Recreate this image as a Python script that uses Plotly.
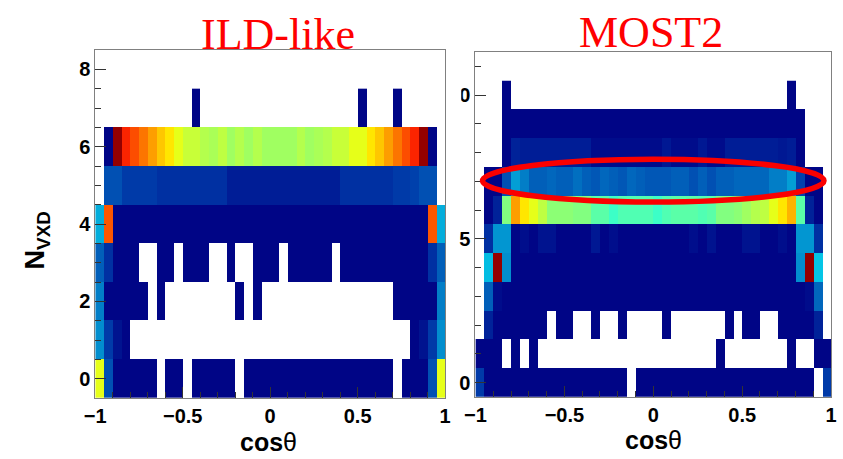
import numpy as np
import plotly.graph_objects as go

W, H = 843, 459
N = None

# 40 cos(theta) bins from -1 to 1
x_centers = [round(-0.975 + 0.05 * i, 3) for i in range(40)]

# ---------------- ILD-like : rows N_VXD = 0..7  (relative colour level 0-100) -------------
ild_row0 = [60, 15, 1, 1, 1, 1, 1, N, 1, 1, N, 1, 1, 1, 1, 1, N, 1, 1, 1,
            1, 1, 1, 1, 1, 1, 1, 1, 1, 1, 1, 1, 1, 1, N, 1, 1, 1, 15, 60]
ild_row1 = [23, 12, 4, 1, N, N, N, N, N, N, N, N, N, N, N, N, N, N, N, N,
            N, N, N, N, N, N, N, N, N, N, N, N, N, N, N, N, 1, 4, 12, 23]
ild_row2 = [21, 1, 1, 1, 1, 1, N, 1, N, N, N, N, N, N, N, N, 1, N, 1, N,
            N, N, N, N, N, N, N, N, N, N, N, N, N, N, 1, 1, 1, 1, 1, 21]
ild_row3 = [17, 10, 1, 1, 1, N, N, 1, 1, N, 1, 1, 1, N, N, 1, N, N, 1, 1,
            1, N, 1, 1, 1, 1, 1, N, 1, 1, 1, 1, 1, 1, 1, 1, 1, 1, 10, 17]
ild_row4 = [27, 79, 1, 1, 1, 1, 1, 1, 1, 1, 1, 1, 1, 1, 1, 1, 1, 1, 1, 1,
            1, 1, 1, 1, 1, 1, 1, 1, 1, 1, 1, 1, 1, 1, 1, 1, 1, 1, 79, 27]
ild_row5 = [N, 15, 15, 12, 12, 12, 12, 10, 10, 10, 10, 10, 10, 10, 10, 6, 6, 6, 6, 6,
            6, 6, 6, 6, 6, 6, 6, 6, 10, 10, 10, 10, 10, 10, 12, 12, 13, 15, 15, N]
ild_row6 = [N, 1, 98, 84, 80, 76, 72, 68, 65, 60, 57, 57, 55, 54, 56, 53, 55, 53, 55, 53,
            53, 53, 53, 55, 53, 54, 55, 57, 57, 60, 60, 65, 68, 72, 76, 80, 84, 98, 1, N]
ild_row7 = [N, N, N, N, N, N, N, N, N, N, N, 1, N, N, N, N, N, N, N, N,
            N, N, N, N, N, N, N, N, N, N, 1, N, N, N, 1, N, N, N, N, N]
ild_rows = [ild_row0, ild_row1, ild_row2, ild_row3, ild_row4, ild_row5, ild_row6, ild_row7]
ild_y = [0, 1, 2, 3, 4, 5, 6, 7]

# ---------------- MOST2 : rows N_VXD = 0..10 -------------
most_row0 = [12, 1, 1, 1, 1, 1, 1, 1, 1, 1, 1, 1, 1, 1, 1, 1, 1, N, 1, 1,
             1, 1, 1, 1, 1, 1, 1, 1, 1, 1, 1, 1, 1, 1, 1, 1, 1, 1, N, 12]
most_row1 = [1, 1, 1, N, 1, N, 1, N, N, N, N, N, N, N, N, N, N, N, N, N,
             N, N, N, N, N, N, N, 1, N, N, N, N, N, N, N, 1, N, N, 1, 1]
most_row2 = [N, 7, 1, 1, 1, 1, 1, 1, N, 1, 1, N, N, 1, N, N, 1, N, N, N,
             N, 1, N, N, N, N, N, N, 1, N, 1, 1, N, N, 1, 1, 1, 1, 7, N]
most_row3 = [N, 17, 2.5, 1, 1, 1, 1, 1, 1, 1, 1, 1, 1, 1, 1, 1, 1, 1, 1, 1,
             1, 1, 1, 1, 1, 1, 1, 1, 1, 1, 1, 1, 1, 1, 1, 1, 1, 2.5, 18, N]
most_row4 = [N, 29, 98, 23, 1, 1, 1, 1, 1, 1, 1, 1, 1, 1, 1, 1, 1, 1, 1, 1,
             1, 1, 1, 1, 1, 1, 1, 1, 1, 1, 1, 1, 1, 1, 1, 1, 23, 98, 30, N]
most_row5 = [N, 10, 24, 24, 1, 3, 1, 4, 4, 1, 1, 1, 1, 5, 1, 3, 1, 1, 1, 1,
             1, 1, 1, 1, 3, 1, 4, 1, 1, 1, 4, 4, 1, 1, 3, 1, 24, 24, 10, N]
most_row6 = [N, 1, 7, 50, 72, 65, 60, 56, 51, 51, 51, 50, 50, 46, 46, 43, 45, 45, 45, 45,
             43, 45, 46, 46, 46, 45, 46, 50, 50, 51, 53, 55, 56, 60, 65, 70, 46, 7, 1, N]
most_row7 = [N, 1, 1, 15, 25, 21, 17, 17, 18, 17, 17, 19, 17, 16, 18, 17, 16, 18, 17, 16,
             16, 16, 17, 17, 15, 17, 15, 17, 17, 18, 18, 18, 18, 21, 21, 25, 13, 1, 1, N]
most_row8 = [N, N, N, 1, 7, 6, 6, 6, 6, 6, 6, 6, 6, 2.5, 2.5, 2.5, 2.5, 2.5, 2.5, 2.5,
             2.5, 5, 2.5, 2.5, 2.5, 5, 2.5, 2.5, 6, 6, 6, 6, 6, 6, 5, 6, 1, N, N, N]
most_row9 = [N, N, N, 1, 1, 1, 1, 1, 1, 1, 1, 1, 1, 1, 1, 1, 1, 1, 1, 1,
             1, 1, 1, 1, 1, 1, 1, 1, 1, 1, 1, 1, 1, 1, 1, 1, 1, N, N, N]
most_row10 = [N, N, N, 1, N, N, N, N, N, N, N, N, N, N, N, N, N, N, N, N,
              N, N, N, N, N, N, N, N, N, N, N, N, N, N, N, 1, N, N, N, N]
most_rows = [most_row0, most_row1, most_row2, most_row3, most_row4, most_row5,
             most_row6, most_row7, most_row8, most_row9, most_row10]
most_y = [0, 1, 2, 3, 4, 5, 6, 7, 8, 9, 10]

# tick labels
x_tickvals = [-1, -0.5, 0, 0.5, 1]
x_ticktext = ["\u22121", "\u22120.5", "0", "0.5", "1"]
ild_ytickvals = [0, 2, 4, 6, 8]
most_ytickvals = [0, 5, 10]

titles = ["ILD-like", "MOST2"]

jet = [[0.0, "rgb(0,0,131)"], [0.125, "rgb(0,60,170)"], [0.375, "rgb(5,255,255)"],
       [0.625, "rgb(255,255,0)"], [0.875, "rgb(250,0,0)"], [1.0, "rgb(128,0,0)"]]

fig = go.Figure()
fig.add_trace(go.Heatmap(x=x_centers, y=ild_y, z=ild_rows, colorscale=jet, zmin=0, zmax=100,
                         showscale=False, xaxis="x", yaxis="y", zsmooth=False, hoverongaps=False))
fig.add_trace(go.Heatmap(x=x_centers, y=most_y, z=most_rows, colorscale=jet, zmin=0, zmax=100,
                         showscale=False, xaxis="x2", yaxis="y2", zsmooth=False, hoverongaps=False))

tickfont = dict(family="Liberation Sans", size=20, color="black", weight="bold")


def px_x(p):
    return p / W


def px_y(p):
    return 1 - p / H


common_x = dict(range=[-1, 1], tickvals=x_tickvals, ticktext=x_ticktext, ticks="inside",
                ticklen=11, tickwidth=1, tickcolor="#333", showgrid=False, zeroline=False,
                showline=True, mirror=True, linecolor="#808080", linewidth=1, tickfont=tickfont,
                minor=dict(dtick=0.1, tick0=0, ticks="inside", ticklen=6, tickcolor="#333",
                           showgrid=False))

fig.update_layout(
    width=W, height=H, margin=dict(l=0, r=0, t=0, b=0),
    paper_bgcolor="white", plot_bgcolor="white", showlegend=False,
    xaxis=dict(domain=[px_x(86), px_x(443)], anchor="y", **common_x),
    xaxis2=dict(domain=[px_x(474), px_x(837)], anchor="y2", **common_x),
    yaxis=dict(domain=[px_y(398), px_y(50)], anchor="x", range=[-0.5, 8.5],
               tickvals=ild_ytickvals, ticks="inside", ticklen=11, tickwidth=1, tickcolor="#333",
               showgrid=False, zeroline=False, showline=True, mirror=True, linecolor="#808080",
               linewidth=1, tickfont=tickfont,
               minor=dict(dtick=0.5, tick0=0, ticks="inside", ticklen=6, tickcolor="#333",
                          showgrid=False)),
    yaxis2=dict(domain=[px_y(397), px_y(52)], anchor="x2", range=[-0.5, 11.5],
                tickvals=most_ytickvals, ticks="inside", ticklen=11, tickwidth=1, tickcolor="#333",
                showgrid=False, zeroline=False, showline=True, mirror=True, linecolor="#808080",
                linewidth=1, tickfont=tickfont,
                minor=dict(dtick=1, tick0=0, ticks="inside", ticklen=6, tickcolor="#333",
                           showgrid=False)),
)

# red ellipse highlighting the MOST2 band
fig.add_shape(type="circle", xref="x2", yref="y2", x0=-0.96, x1=0.96, y0=6.28, y1=7.77,
              line=dict(color="rgb(250,0,0)", width=5.5), layer="above")

# the left pad hides the leading digit of the "10" label of the right panel
fig.add_shape(type="rect", xref="paper", yref="paper", x0=px_x(445), x1=px_x(459.5),
              y0=px_y(112), y1=px_y(78), fillcolor="white", line=dict(width=0), layer="above")

title_font = dict(family="Liberation Serif", size=44, color="rgb(255,0,0)")
fig.add_annotation(text=titles[0], x=px_x(273), y=px_y(34), xref="paper", yref="paper",
                   showarrow=False, font=title_font, xanchor="center", yanchor="middle")
fig.add_annotation(text=titles[1], x=px_x(653), y=px_y(32), xref="paper", yref="paper",
                   showarrow=False, font=title_font, xanchor="center", yanchor="middle")

axis_title_font = dict(family="Liberation Sans", size=25, color="black")
fig.add_annotation(text="<b>cos</b>\u03b8", x=px_x(263), y=px_y(442), xref="paper", yref="paper",
                   showarrow=False, font=axis_title_font, xanchor="center", yanchor="middle")
fig.add_annotation(text="<b>cos</b>\u03b8", x=px_x(656), y=px_y(440), xref="paper", yref="paper",
                   showarrow=False, font=axis_title_font, xanchor="center", yanchor="middle")
fig.add_annotation(text="<b>N<sub>VXD</sub></b>", x=px_x(27), y=px_y(240), xref="paper",
                   yref="paper", showarrow=False, font=dict(family="Liberation Sans", size=27,
                                                            color="black"),
                   textangle=-90, xanchor="center", yanchor="middle")

fig.write_html("out.html")
